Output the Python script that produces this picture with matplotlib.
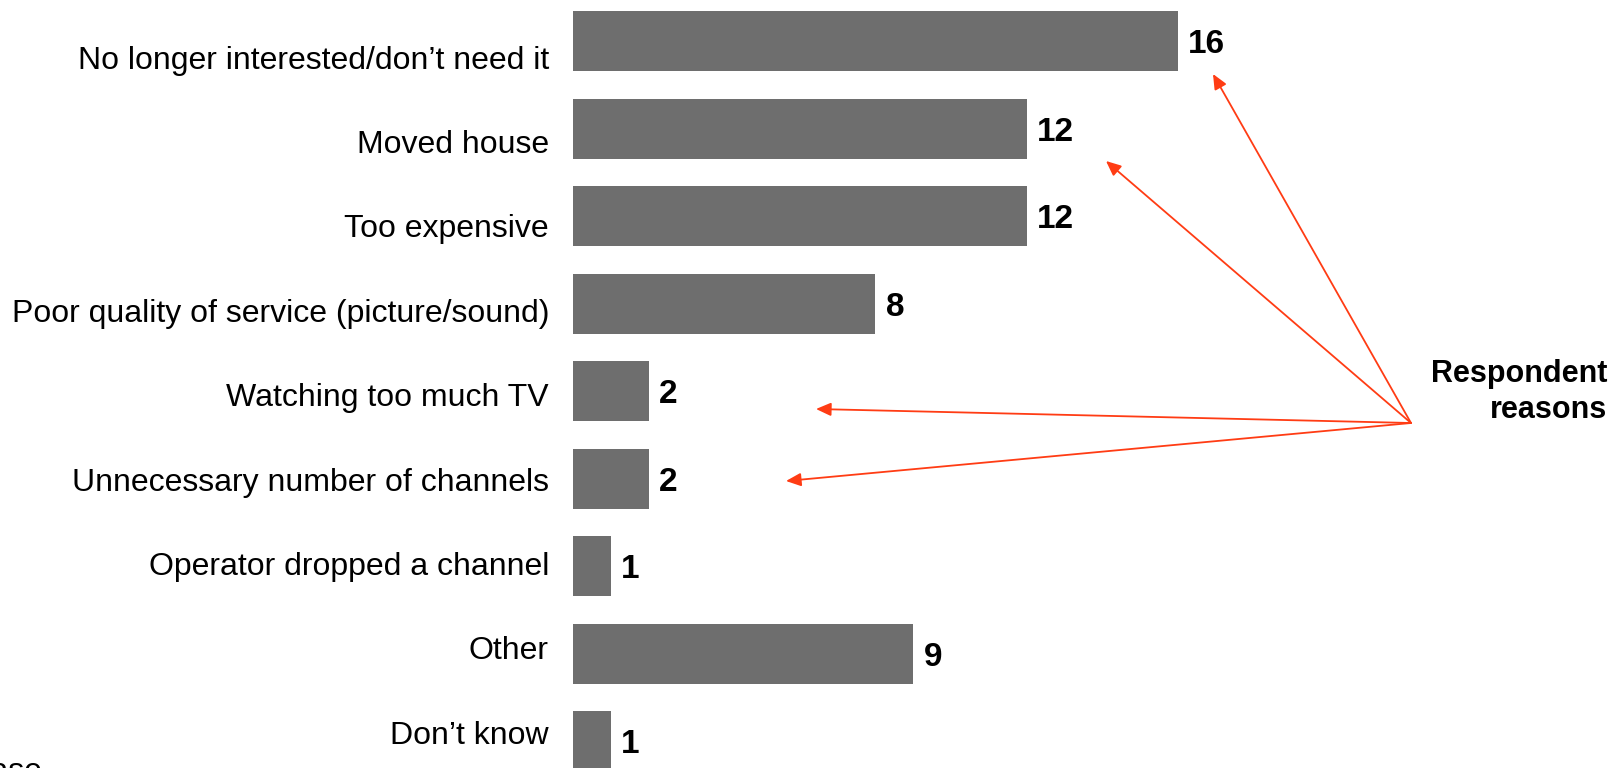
import matplotlib.pyplot as plt

plt.rcParams['font.family'] = ['Liberation Sans', 'DejaVu Sans']

reasons = ['No longer interested/don\u2019t need it', 'Moved house', 'Too expensive',
           'Poor quality of service (picture/sound)', 'Watching too much TV',
           'Unnecessary number of channels', 'Operator dropped a channel',
           'Other', 'Don\u2019t know']
counts = [16, 12, 12, 8, 2, 2, 1, 9, 1]
# bars the "Respondent reasons" arrows point at
pointed = [0, 1, 4, 5]

W, H = 1614, 768
bar_color = '#6e6e6e'
arrow_color = '#ff3c14'

fig = plt.figure(figsize=(W / 100, H / 100), dpi=100)
ax = fig.add_axes([0, 0, 1, 1])

# 0 sits at x=573px, one unit = 37.8px; rows every 87.5px starting at 41px
x0, unit = 573, 37.8
y0, step = 41.3, 87.5
ax.set_xlim(-x0 / unit, (W - x0) / unit)
ax.set_ylim((H - y0) / step, -y0 / step)
ax.axis('off')

idx = list(range(len(reasons)))
ax.barh(idx, counts, height=0.685, color=bar_color)

for i, v in zip(idx, counts):
    ax.annotate(str(v), (v, i), xytext=(7.5, -2.5), textcoords='offset points',
                ha='left', va='center', fontsize=24, fontweight='bold')

# category names sit on their own slightly tighter spacing
for i, name in enumerate(reasons):
    ly = 60.5 + 84.4 * i
    fig.text(549 / W, 1 - ly / H, name, ha='right', va='center', fontsize=23)

fig.text(1607 / W, 1 - 392 / H, 'Respondent\nreasons', ha='right', va='center',
         fontsize=22, fontweight='bold', linespacing=1.27, multialignment='right')

# arrows fan out from one point towards the value labels
src = (1411, H - 423)
tips = [(1213, 74), (1106, 161), (816, 409), (786, 481)]
for tx, ty in tips:
    ax.annotate('', xy=(tx, H - ty), xycoords='figure pixels',
                xytext=src, textcoords='figure pixels',
                arrowprops=dict(arrowstyle='-|>,head_length=0.45,head_width=0.2',
                                color=arrow_color, lw=1.3, mutation_scale=20,
                                shrinkA=0, shrinkB=0))

fig.text(42 / W, 1 - 780 / H, 'Base', ha='right', va='baseline', fontsize=23)

fig.savefig('out.png', dpi=100)
